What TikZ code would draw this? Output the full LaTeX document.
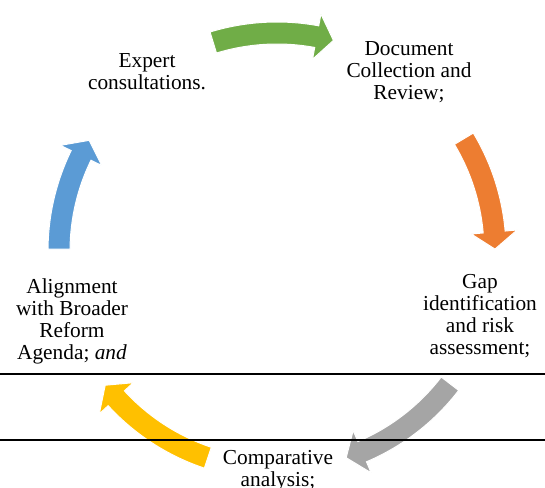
\documentclass[tikz,border=0pt]{standalone}
\usepackage{fontspec}
\setmainfont{Liberation Serif}
\usepackage{tikz}
\usetikzlibrary{positioning}
\definecolor{cygreen}{RGB}{112,173,71}
\definecolor{cyorange}{RGB}{237,125,49}
\definecolor{cygray}{RGB}{165,165,165}
\definecolor{cyyellow}{RGB}{255,192,0}
\definecolor{cyblue}{RGB}{91,155,213}

\begin{document}
\begin{tikzpicture}[
    x=0.75pt,y=0.75pt,
    font=\fontsize{16}{16.5}\selectfont,
    label/.style={align=center,inner sep=0pt},
    rule/.style={line width=1.1pt,black},
    bigarrow/.style={draw=white,line width=0.75pt}
  ]
    \useasboundingbox (0,0) rectangle (545,488);
    \coordinate (o) at (277,237);
    \draw[rule] (0,114) -- (545,114);
    % curved arrows round the cycle: tail angle / tip angle / colour
    \foreach \ta/\tb/\col in {107/75/cygreen,31/0.5/cyorange,-37.5/-71.5/cygray,-108.5/-142/cyyellow,179.5/149.5/cyblue}{
      \fill[bigarrow,fill=\col,shift={(o)}]
        (\ta:229) arc[start angle=\ta,end angle=\tb+4.5,radius=229]
        -- ({\tb+4.5}:241) -- (\tb:218) -- ({\tb+4.5}:195)
        -- ({\tb+4.5}:207) arc[start angle=\tb+4.5,end angle=\ta,radius=207]
        -- cycle;
    }
    \draw[rule] (0,48) -- (545,48);
    \node[label] (expert) at (147,416) {Expert\\consultations.};
    \node[label] (doccol) at (409,416) {Document\\Collection and\\Review;};
    \node[label] (gap) at (480,172) {Gap\\identification\\and risk\\assessment;};
    \node[label] (compar) at (278,17) {Comparative\\analysis;};
    \node[label] (align) at (72,167) {Alignment\\with Broader\\Reform\\Agenda; \textit{and}};
  \end{tikzpicture}
\end{document}
